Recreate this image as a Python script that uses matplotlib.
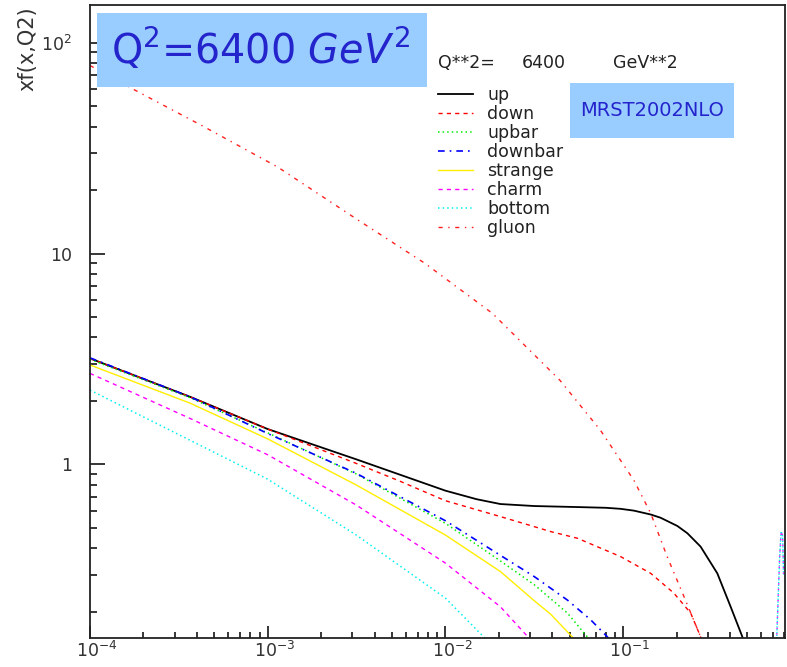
import numpy as np
import matplotlib
matplotlib.use('Agg')
import matplotlib.pyplot as plt
from matplotlib.patches import Rectangle
from matplotlib.lines import Line2D
from matplotlib.transforms import ScaledTranslation
from matplotlib.ticker import FixedLocator, FixedFormatter, LogLocator, NullFormatter

plt.rcParams['mathtext.fontset'] = 'dejavusans'

# parton distributions xf(x,Q2) at Q2 = 6400 GeV2
x_up = [1e-4, 3.66e-4, 1e-3, 3.15e-3, 1e-2, 0.015, 0.0204, 0.0317, 0.0553, 0.08,
        0.0968, 0.115, 0.143, 0.1625, 0.202, 0.23, 0.273, 0.339, 0.403, 0.469, 0.5]
y_up = [3.18, 2.09, 1.47, 1.056, 0.75, 0.683, 0.648, 0.634, 0.627, 0.622,
        0.615, 0.603, 0.578, 0.558, 0.51, 0.471, 0.407, 0.304, 0.211, 0.152, 0.115]

x_down = [1e-4, 3.66e-4, 1e-3, 3.15e-3, 5.58e-3, 1e-2, 0.0204, 0.0317, 0.039, 0.0553,
          0.0968, 0.143, 0.193, 0.24, 0.273, 0.30]
y_down = [3.18, 2.09, 1.47, 1.01, 0.83, 0.672, 0.565, 0.506, 0.48, 0.446,
          0.365, 0.304, 0.245, 0.197, 0.152, 0.12]

x_upbar = [1e-4, 3.66e-4, 1e-3, 3.15e-3, 1e-2, 0.0204, 0.0317, 0.0486, 0.0628, 0.07]
y_upbar = [3.15, 2.07, 1.41, 0.90, 0.525, 0.348, 0.268, 0.197, 0.152, 0.13]

x_downbar = [1e-4, 3.66e-4, 1e-3, 3.15e-3, 1e-2, 0.0204, 0.0317, 0.0486, 0.0657, 0.0815, 0.09]
y_downbar = [3.2, 2.09, 1.40, 0.906, 0.54, 0.37, 0.293, 0.227, 0.183, 0.152, 0.135]

x_strange = [1e-4, 3.66e-4, 1e-3, 3.15e-3, 1e-2, 0.0204, 0.0317, 0.039, 0.0517, 0.058]
y_strange = [2.96, 1.95, 1.32, 0.798, 0.462, 0.31, 0.225, 0.195, 0.152, 0.13]

x_charm = [1e-4, 3.66e-4, 1e-3, 3.15e-3, 1e-2, 0.0204, 0.0291, 0.032]
y_charm = [2.70, 1.65, 1.11, 0.641, 0.34, 0.211, 0.152, 0.135]

x_bottom = [1e-4, 3.66e-4, 1e-3, 3.15e-3, 1e-2, 0.0164, 0.018]
y_bottom = [2.25, 1.30, 0.85, 0.462, 0.232, 0.152, 0.14]

x_gluon = [1e-4, 1.73e-4, 4.25e-4, 1.14e-3, 3.23e-3, 7.69e-3, 0.0184, 0.044, 0.0746, 0.115,
           0.143, 0.177, 0.22, 0.273, 0.29]
y_gluon = [78, 60.5, 40.5, 25.7, 14.4, 8.97, 5.2, 2.51, 1.45, 0.84,
           0.586, 0.365, 0.236, 0.152, 0.13]

# spike near x ~ 0.78 (charm / bottom)
x_spike = [0.73, 0.76, 0.775, 0.79, 0.80]
y_spike = [0.14, 0.36, 0.48, 0.46, 0.30]

labels = ['up', 'down', 'upbar', 'downbar', 'strange', 'charm', 'bottom', 'gluon']
colors = ['black', '#ff0000', '#00ee00', '#0000ff', '#ffee00', '#ff00ff', '#00f0f0', '#ff2020']
styles = ['-', (0, (3, 3)), (0, (1, 2)), (0, (4, 3, 1, 3)), '-', (0, (3, 3)), (0, (1, 2)),
          (0, (3, 4, 1, 4))]
widths = [1.3, 1.0, 1.1, 1.2, 1.0, 1.0, 1.1, 1.0]

fig = plt.figure(figsize=(7.87, 6.67), dpi=100)
ax = fig.add_axes([90 / 787, 1 - 638 / 667, 695 / 787, 633 / 667])

series = [(x_up, y_up), (x_down, y_down), (x_upbar, y_upbar), (x_downbar, y_downbar),
          (x_strange, y_strange), (x_charm, y_charm), (x_bottom, y_bottom), (x_gluon, y_gluon)]
for (xs, ys), c, ls, lw in zip(series, colors, styles, widths):
    ax.plot(xs, ys, color=c, linestyle=ls, linewidth=lw)
ax.plot(x_spike, y_spike, color=colors[6], linestyle=(0, (1, 1)), linewidth=1.0)
ax.plot(x_spike, y_spike, color=colors[5], linestyle=(1, (1, 3)), linewidth=1.0)

ax.set_xscale('log')
ax.set_yscale('log')
ax.set_xlim(1e-4, 0.815)
ax.set_ylim(0.15, 151)

ax.xaxis.set_major_locator(FixedLocator([1e-4, 1e-3, 1e-2, 1e-1]))
ax.xaxis.set_major_formatter(FixedFormatter([r'$10^{-4}$', r'$10^{-3}$', r'$10^{-2}$', r'$10^{-1}$']))
ax.xaxis.set_minor_locator(LogLocator(base=10, subs=np.arange(2, 10)))
ax.xaxis.set_minor_formatter(NullFormatter())
ax.yaxis.set_major_locator(FixedLocator([1, 10, 100]))
ax.yaxis.set_major_formatter(FixedFormatter(['1', '10', r'$10^2$']))
ax.yaxis.set_minor_locator(LogLocator(base=10, subs=np.arange(2, 10)))
ax.yaxis.set_minor_formatter(NullFormatter())

ax.tick_params(axis='x', which='major', direction='in', length=8.6, width=1.1, labelsize=12.5, pad=2)
ax.tick_params(axis='x', which='minor', direction='in', length=4.3, width=1.1)
ax.tick_params(axis='y', which='major', direction='in', length=10.8, width=1.1, labelsize=12.5, pad=13)
ax.tick_params(axis='y', which='minor', direction='in', length=5, width=1.1)
for lab in ax.get_xticklabels():
    lab.set_transform(lab.get_transform() + ScaledTranslation(5 / 72, 0, fig.dpi_scale_trans))
    lab.set_color('#333333')
for lab in ax.get_yticklabels():
    lab.set_color('#333333')
for side in ['left', 'bottom', 'top', 'right']:
    ax.spines[side].set_linewidth(1.3)
    ax.spines[side].set_color('#222222')

fig.text(27 / 787, 1 - 6 / 667, 'xf(x,Q2)', rotation=90, ha='center', va='top', fontsize=15,
         color='#333333')

# title box
fig.patches.append(Rectangle((97 / 787, 1 - 87 / 667), 330 / 787, 74 / 667, transform=fig.transFigure,
                             facecolor='#99ccff', edgecolor='none', zorder=5))
fig.text(260 / 787, 1 - 50 / 667, r'Q$^2$=6400 $\mathit{GeV}^2$', ha='center', va='center',
         fontsize=28.5, color='#2424cc', zorder=6)

# MRST box
fig.patches.append(Rectangle((570 / 787, 1 - 138 / 667), 164 / 787, 55 / 667, transform=fig.transFigure,
                             facecolor='#99ccff', edgecolor='none', zorder=5))
fig.text(652 / 787, 1 - 110 / 667, 'MRST2002NLO', ha='center', va='center', fontsize=14,
         color='#2424cc', zorder=6)

fig.text(438 / 787, 1 - 63 / 667, 'Q**2=', ha='left', va='center', fontsize=12.5, color='#222222')
fig.text(522 / 787, 1 - 63 / 667, '6400', ha='left', va='center', fontsize=12.5, color='#222222')
fig.text(613 / 787, 1 - 63 / 667, 'GeV**2', ha='left', va='center', fontsize=12.5, color='#222222')

handles = [Line2D([], [], color=c, linestyle=ls, linewidth=lw) for c, ls, lw in zip(colors, styles, widths)]
leg = ax.legend(handles, labels, loc='upper left', bbox_to_anchor=(438 / 787, 1 - 86 / 667),
                bbox_transform=fig.transFigure, frameon=False, fontsize=12.5, borderpad=0,
                borderaxespad=0, handlelength=2.0, handletextpad=0.85, labelspacing=0.055)
for t in leg.get_texts():
    t.set_color('#222222')

fig.savefig('out.png', dpi=100)
